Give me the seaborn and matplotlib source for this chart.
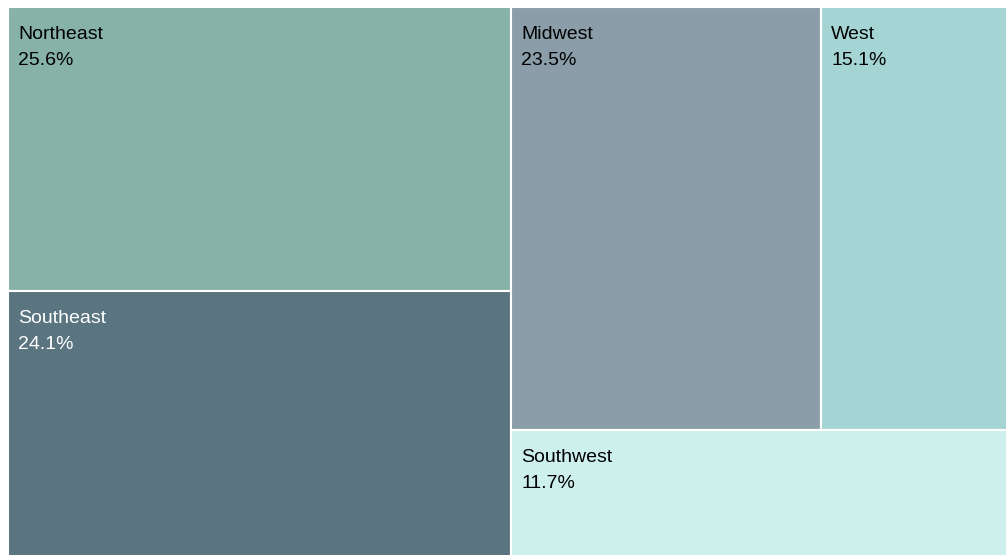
import matplotlib
matplotlib.use("Agg")
import matplotlib.pyplot as plt
import seaborn as sns
from matplotlib.patches import Rectangle

sns.set_theme(style="white")
plt.rcParams['font.family'] = ['Liberation Sans', 'DejaVu Sans']

regions = ["Northeast", "Southeast", "Midwest", "West", "Southwest"]
shares = [25.6, 24.1, 23.5, 15.1, 11.7]
colors = ["#86b2a8", "#5a7480", "#8a9da8", "#a4d5d4", "#cdf0ec"]
text_colors = ["black", "white", "black", "black", "black"]

val = dict(zip(regions, shares))
total = sum(shares)

# layout: left column (Northeast / Southeast), right column (Midwest|West over Southwest)
rects = {}
left_w = (val["Northeast"] + val["Southeast"]) / total
ne_h = val["Northeast"] / (val["Northeast"] + val["Southeast"])
rects["Northeast"] = (0, 1 - ne_h, left_w, ne_h)
rects["Southeast"] = (0, 0, left_w, 1 - ne_h)
right_w = 1 - left_w
right_total = val["Midwest"] + val["West"] + val["Southwest"]
top_h = (val["Midwest"] + val["West"]) / right_total
mw_w = right_w * val["Midwest"] / (val["Midwest"] + val["West"])
rects["Midwest"] = (left_w, 1 - top_h, mw_w, top_h)
rects["West"] = (left_w + mw_w, 1 - top_h, right_w - mw_w, top_h)
rects["Southwest"] = (left_w, 0, right_w, 1 - top_h)

fig = plt.figure(figsize=(10.06, 5.55), dpi=100)
ax = fig.add_axes([8 / 1006, -3 / 555, 1012 / 1006, 551 / 555])
ax.set_xlim(0, 1)
ax.set_ylim(0, 1)
ax.axis("off")

for name, c, tc in zip(regions, colors, text_colors):
    x, y, w, h = rects[name]
    ax.add_patch(Rectangle((x, y), w, h, facecolor=c, edgecolor="white", linewidth=1.5))
    ax.annotate(f"{name}\n{val[name]:.1f}%", xy=(x, y + h), xytext=(7.5, -13.5),
                textcoords="offset points", ha="left", va="top",
                fontsize=14, color=tc, linespacing=1.72)

fig.savefig("out.png", dpi=100)
